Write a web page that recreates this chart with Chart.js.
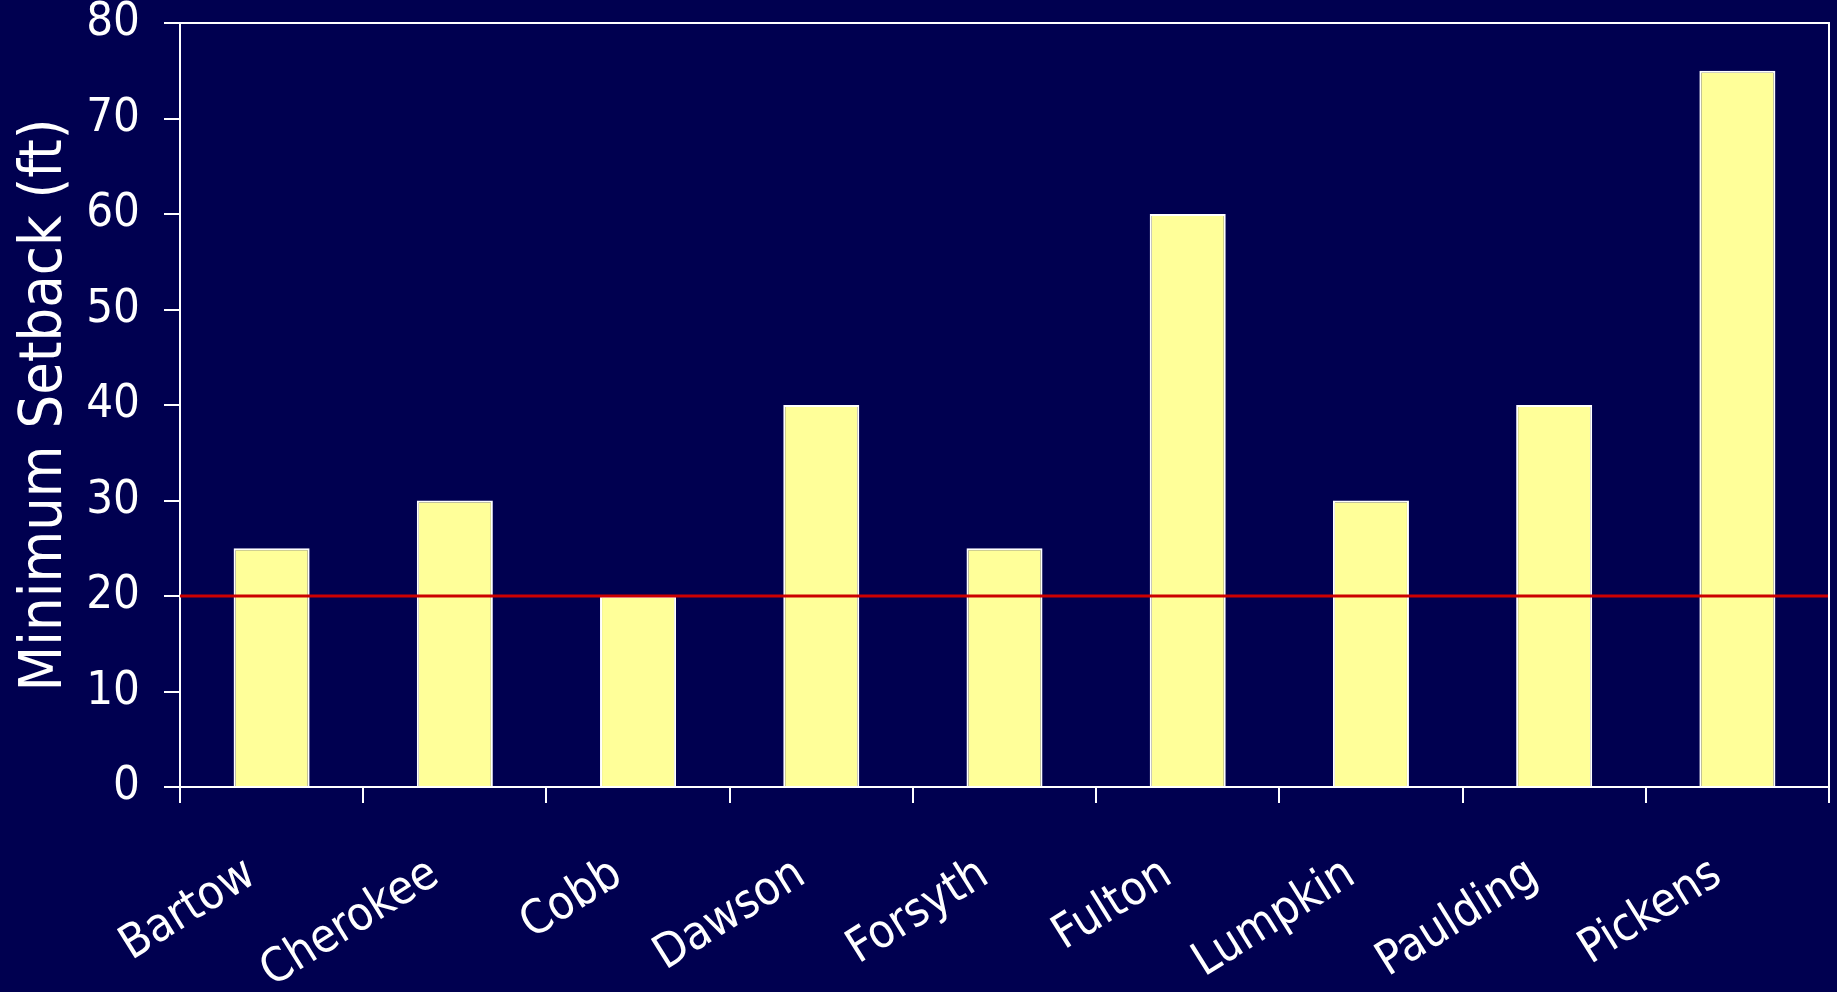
<!DOCTYPE html>
<html>
<head>
<meta charset="utf-8">
<script src="https://cdn.jsdelivr.net/npm/chart.js@4/dist/chart.umd.min.js"></script>
<style>
  html, body { margin: 0; padding: 0; background: #000050; }
  #wrap { width: 1837px; height: 992px; }
</style>
</head>
<body>
<div id="wrap"><canvas id="setback-chart" width="1837" height="992"></canvas></div>
<script>
const counties = ['Bartow', 'Cherokee', 'Cobb', 'Dawson', 'Forsyth', 'Fulton', 'Lumpkin', 'Paulding', 'Pickens'];
const setbacks = [25, 30, 20, 40, 25, 60, 30, 40, 75];
const yTicks = [0, 10, 20, 30, 40, 50, 60, 70, 80];
const referenceLine = 20;

const fontFamily = "'DejaVu Sans Condensed', 'DejaVu Sans', sans-serif";

// red reference line across the plot and the frame on top/right
const extras = {
    id: 'extras',
    afterDatasetsDraw(chart) {
        const { ctx, chartArea, scales } = chart;
        const y = scales.y.getPixelForValue(referenceLine);
        ctx.save();
        ctx.strokeStyle = '#CC0000';
        ctx.lineWidth = 3;
        ctx.beginPath();
        ctx.moveTo(chartArea.left, y);
        ctx.lineTo(chartArea.right, y);
        ctx.stroke();
        ctx.strokeStyle = '#FFFFFF';
        ctx.lineWidth = 2;
        ctx.beginPath();
        ctx.moveTo(chartArea.left, chartArea.top);
        ctx.lineTo(chartArea.right, chartArea.top);
        ctx.lineTo(chartArea.right, chartArea.bottom);
        ctx.stroke();
        ctx.restore();
    }
};

const ctx = document.getElementById('setback-chart').getContext('2d');
new Chart(ctx, {
    type: 'bar',
    data: {
        labels: counties,
        datasets: [{
            data: setbacks,
            backgroundColor: '#FFFF99',
            borderColor: '#FFFFFF',
            borderWidth: 2,
            barPercentage: 0.415,
            categoryPercentage: 1
        }]
    },
    options: {
        responsive: false,
        animation: false,
        layout: { padding: { top: 23, right: 8, left: 0, bottom: 0 } },
        plugins: {
            legend: { display: false },
            tooltip: { enabled: false }
        },
        scales: {
            x: {
                grid: { drawOnChartArea: false, color: '#FFFFFF', tickLength: 16, lineWidth: 2, offset: true },
                border: { color: '#FFFFFF', width: 2 },
                ticks: {
                    color: '#FFFFFF',
                    font: { family: fontFamily, size: 47 },
                    minRotation: 32,
                    maxRotation: 32,
                    padding: 44,
                    labelOffset: -20,
                    autoSkip: false
                },
                afterFit(scale) {
                    scale.height = 205;
                    scale.paddingLeft = 0;
                    scale.paddingRight = 0;
                }
            },
            y: {
                min: 0,
                max: 80,
                afterBuildTicks(scale) {
                    scale.ticks = yTicks.map(v => ({ value: v }));
                },
                grid: { drawOnChartArea: false, color: '#FFFFFF', tickLength: 16, lineWidth: 2 },
                border: { color: '#FFFFFF', width: 2 },
                ticks: {
                    color: '#FFFFFF',
                    font: { family: fontFamily, size: 47 },
                    padding: 24
                },
                title: {
                    display: true,
                    text: 'Minimum Setback (ft)',
                    color: '#FFFFFF',
                    font: { family: fontFamily, size: 59 },
                    padding: { top: 10, bottom: 0 }
                },
                afterFit(scale) {
                    scale.width = 180;
                    scale.paddingTop = 0;
                    scale.paddingBottom = 0;
                }
            }
        }
    },
    plugins: [extras]
});
</script>
</body>
</html>
